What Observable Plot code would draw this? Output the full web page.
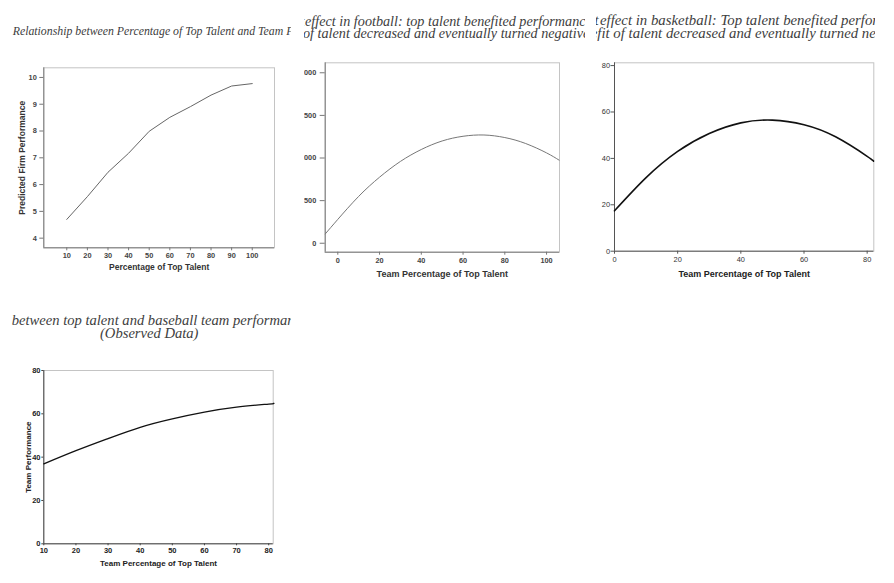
<!DOCTYPE html>
<html><head><meta charset="utf-8">
<script src="https://cdn.jsdelivr.net/npm/d3@7"></script>
<script src="https://cdn.jsdelivr.net/npm/@observablehq/plot@0.6"></script>
<style>
html,body{margin:0;padding:0;background:#fff;}
#page{position:relative;width:894px;height:583px;overflow:hidden;background:#fff;}
.panel{position:absolute;overflow:hidden;}
.t{position:absolute;white-space:nowrap;font-family:"Liberation Serif","Times New Roman",serif;font-style:italic;line-height:1;color:#404040;}
.plotbox{position:absolute;}
</style></head><body><div id="page"></div>
<script>
// ---------- data ----------
// Panel 1: firm performance
const firmPct = [10, 20, 30, 40, 50, 60, 70, 80, 90, 100];
const firmPerf = [4.70, 5.55, 6.46, 7.17, 7.99, 8.51, 8.91, 9.34, 9.68, 9.77];
const firmXTicks = [10, 20, 30, 40, 50, 60, 70, 80, 90, 100];
const firmYTicks = [4, 5, 6, 7, 8, 9, 10];

// Panel 2: football
const footPct = [-6, 0, 10, 20, 30, 40, 50, 60, 70, 80, 90, 100, 106];
const footPerf = [110, 280, 550, 775, 960, 1100, 1200, 1255, 1270, 1240, 1170, 1060, 975];
const footXTicks = [0, 20, 40, 60, 80, 100];
const footYTicks = [0, 500, 1000, 1500, 2000];

// Panel 3: basketball
const basketPct = [0, 10, 20, 30, 40, 50, 60, 70, 80, 82];
const basketPerf = [17.4, 31.7, 43.0, 50.7, 55.3, 56.5, 54.5, 49.3, 40.9, 38.8];
const basketXTicks = [0, 20, 40, 60, 80];
const basketYTicks = [0, 20, 40, 60, 80];

// Panel 4: baseball
const basePct = [10, 20, 30, 40, 50, 60, 70, 80, 81.4];
const basePerf = [36.9, 43.0, 48.6, 53.8, 57.7, 60.8, 63.1, 64.5, 64.8];
const baseXTicks = [10, 20, 30, 40, 50, 60, 70, 80];
const baseYTicks = [0, 20, 40, 60, 80];

const xTitleFirm = "Percentage of Top Talent";
const yTitleFirm = "Predicted Firm Performance";
const xTitleTeam = "Team Percentage of Top Talent";
const yTitleTeam = "Team Performance";

// ---------- helpers ----------
const page = document.getElementById("page");

function makePanel(left, top, width, height) {
  const d = document.createElement("div");
  d.className = "panel";
  Object.assign(d.style, {left: left + "px", top: top + "px", width: width + "px", height: height + "px"});
  d._w = width;
  page.appendChild(d);
  return d;
}

function addText(panel, text, x, baseline, fs, align) {
  const d = document.createElement("div");
  d.className = "t";
  d.textContent = text;
  d.style.fontSize = fs + "px";
  d.style.top = (baseline - 0.8375 * fs) + "px";
  if (align === "right") d.style.right = (panel._w - x) + "px";
  else d.style.left = x + "px";
  panel.appendChild(d);
}

function addPlot(panel, c) {
  const rows = c.xs.map((x, i) => ({x, y: c.ys[i]}));
  const ml = c.frame[0] - c.svgLeft;
  const mr = c.svgLeft + c.width - c.frame[1];
  const mt = c.frame[2] - c.svgTop;
  const mb = c.svgTop + c.height - c.frame[3];
  const marks = [
    Plot.frame({stroke: c.frameLight, strokeWidth: 1}),
    Plot.ruleX([c.xDomain[0]], {stroke: c.axisDark, strokeWidth: 1}),
    Plot.ruleY([c.yDomain[0]], {stroke: c.axisDark, strokeWidth: 1}),
    Plot.line(rows, {x: "x", y: "y", stroke: c.lineColor, strokeWidth: c.lineWidth, curve: c.curve}),
    Plot.axisX({ticks: c.xTicks, tickFormat: "d", tickSize: c.xTickSize, tickPadding: c.xTickPad,
      fontSize: c.tickFs, fontWeight: c.tickWeight, fill: c.tickColor, stroke: c.axisDark, label: null}),
    Plot.axisY({ticks: c.yTicks, tickFormat: "d", tickSize: c.yTickSize, tickPadding: c.yTickPad,
      fontSize: c.tickFs, fontWeight: c.tickWeight, fill: c.tickColor, stroke: c.axisDark, label: null}),
    Plot.text([c.xTitle], {text: d => d, frameAnchor: "bottom", lineAnchor: "middle", textAnchor: "middle",
      dy: c.xTitleDy, fontSize: c.titleFs, fontWeight: "bold", fill: c.titleColor})
  ];
  if (c.yTitle) marks.push(Plot.text([c.yTitle], {text: d => d, frameAnchor: "left", lineAnchor: "middle",
      textAnchor: "middle", dx: c.yTitleDx, rotate: -90,
      fontSize: c.titleFs, fontWeight: "bold", fill: c.titleColor}));
  const chart = Plot.plot({
    width: c.width, height: c.height,
    marginLeft: ml, marginRight: mr, marginTop: mt, marginBottom: mb,
    style: {background: "transparent", maxWidth: "none", fontFamily: "'Liberation Sans', Arial, sans-serif"},
    x: {domain: c.xDomain},
    y: {domain: c.yDomain},
    marks
  });
  const box = document.createElement("div");
  box.className = "plotbox";
  box.style.left = c.svgLeft + "px";
  box.style.top = c.svgTop + "px";
  box.appendChild(chart);
  panel.appendChild(box);
}

// ---------- Panel 1 ----------
const p1 = makePanel(0, 0, 291, 290);
addText(p1, "Relationship between Percentage of Top Talent and Team Performance", 12.7, 35.5, 11.8);
addPlot(p1, {
  svgLeft: 0, svgTop: 0, width: 291, height: 290,
  frame: [43.3, 274, 67.3, 247.3],
  xDomain: [-1.15, 110.8], yDomain: [3.64, 10.36],
  xs: firmPct, ys: firmPerf, xTicks: firmXTicks, yTicks: firmYTicks,
  frameLight: "#c4c4c4", axisDark: "#777", lineColor: "#666", lineWidth: 1, curve: "linear",
  xTickSize: 3, xTickPad: 2, yTickSize: 4, yTickPad: 3,
  tickFs: 7.4, tickWeight: "bold", tickColor: "#444",
  xTitle: xTitleFirm, yTitle: yTitleFirm, xTitleDy: 19.4, yTitleDx: -21.3, titleFs: 8.5, titleColor: "#333"
});

// ---------- Panel 2 ----------
const p2L = 303.5;
const p2 = makePanel(p2L, 0, 585 - p2L, 290);
addText(p2, "The too-much-talent ", 304.5 - p2L, 25.5, 14.2, "right");
addText(p2, "effect in football: top talent benefited performance up to a point, after which the", 305 - p2L, 25.5, 14.2);
addText(p2, "the marginal benefit ", 302.5 - p2L, 37.6, 14.2, "right");
addText(p2, "of talent decreased and eventually turned negative", 303 - p2L, 37.6, 14.2);
addPlot(p2, {
  svgLeft: 263 - p2L, svgTop: 0, width: 322, height: 290,
  frame: [324.7 - p2L, 559 - p2L, 62.3, 251.7],
  xDomain: [-6.04, 106.2], yDomain: [-105, 2117],
  xs: footPct, ys: footPerf, xTicks: footXTicks, yTicks: footYTicks,
  frameLight: "#c4c4c4", axisDark: "#777", lineColor: "#777", lineWidth: 1, curve: "natural",
  xTickSize: 3, xTickPad: 3, yTickSize: 5, yTickPad: 4,
  tickFs: 7.3, tickWeight: "bold", tickColor: "#444",
  xTitle: xTitleTeam, yTitle: null, xTitleDy: 21.6, titleFs: 9, titleColor: "#333"
});

// ---------- Panel 3 ----------
const p3L = 596;
const p3 = makePanel(p3L, 0, 875 - p3L, 290);
addText(p3, "Too-much-talent ", 598.5 - p3L, 25.8, 14.8, "right");
addText(p3, "effect in basketball: Top talent benefited performance up to a point, after which the", 600 - p3L, 25.8, 14.8);
addText(p3, "up to a point, after which the marginal bene", 597.3 - p3L, 38, 14.8, "right");
addText(p3, "fit of talent decreased and eventually turned negative", 597.3 - p3L, 38, 14.8);
addPlot(p3, {
  svgLeft: 560 - p3L, svgTop: 0, width: 315, height: 290,
  frame: [614 - p3L, 873.3 - p3L, 62.3, 250.7],
  xDomain: [0, 82.1], yDomain: [0, 81.2],
  xs: basketPct, ys: basketPerf, xTicks: basketXTicks, yTicks: basketYTicks,
  frameLight: "#c4c4c4", axisDark: "#555", lineColor: "#111", lineWidth: 1.6, curve: "natural",
  xTickSize: 3, xTickPad: 2.5, yTickSize: 3.5, yTickPad: 1,
  tickFs: 7.4, tickWeight: "normal", tickColor: "#333",
  xTitle: xTitleTeam, yTitle: null, xTitleDy: 22.6, titleFs: 9, titleColor: "#222"
});

// ---------- Panel 4 ----------
const p4T = 290;
const p4 = makePanel(0, p4T, 291, 583 - p4T);
addText(p4, "between top talent and baseball team performance", 11.7, 325.3 - p4T, 14.6);
addText(p4, "(Observed Data)", 100, 338.6 - p4T, 14.6);
addPlot(p4, {
  svgLeft: 0, svgTop: 0, width: 291, height: 293,
  frame: [43.3, 272.7, 370 - p4T, 543.3 - p4T],
  xDomain: [10, 81.4], yDomain: [0, 80],
  xs: basePct, ys: basePerf, xTicks: baseXTicks, yTicks: baseYTicks,
  frameLight: "#c4c4c4", axisDark: "#444", lineColor: "#111", lineWidth: 1.3, curve: "natural",
  xTickSize: 2, xTickPad: 1.5, yTickSize: 2, yTickPad: 1.3,
  tickFs: 7.5, tickWeight: "bold", tickColor: "#222",
  xTitle: xTitleTeam, yTitle: yTitleTeam, xTitleDy: 20, yTitleDx: -15.3, titleFs: 8, titleColor: "#222"
});
</script>
</body></html>
